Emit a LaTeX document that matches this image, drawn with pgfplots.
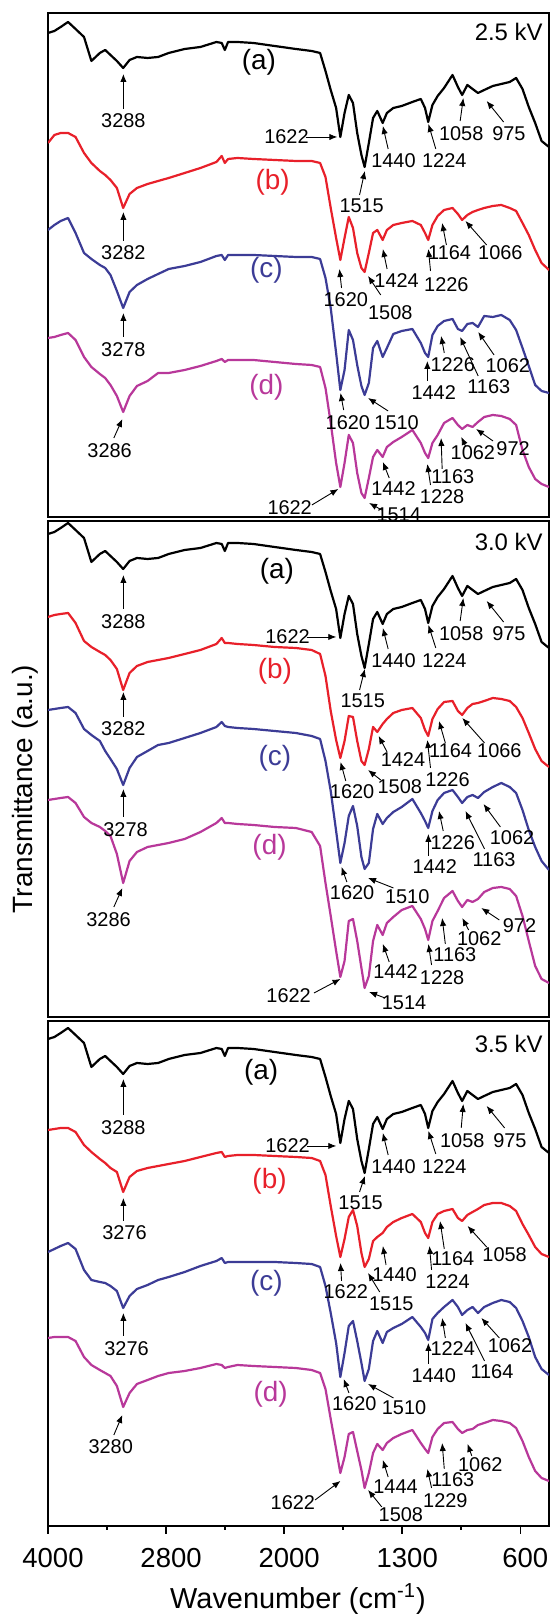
\documentclass[border=0pt]{standalone}
\usepackage{pgfplots}
\pgfplotsset{compat=1.18}
\usepackage{pgfplotstable}
\usepackage{fontspec}
\setmainfont{Liberation Sans}
\usetikzlibrary{arrows.meta}
\definecolor{cred}{HTML}{E8202A}
\definecolor{cblue}{HTML}{3C3C96}
\definecolor{cmag}{HTML}{B8389A}

% FTIR spectra, 2.5 kV panel: wavenumber, (a) (b) (c) (d) transmittance (a.u.)
\pgfplotstableread{
wn a b c d
4000 480 370 283 175
3935 482 378 288 176
3871 486 380 292 178
3796 491 380 295 180
3720 484 376 280 173
3634 476 360 260 156
3559 452 350 254 146
3473 460 342 248 139
3419 463 338 245 135
3365 458 333 238 128
3300 452 325 222 117
3236 445 305 205 101
3171 453 319 221 117
3096 456 325 228 127
2988 455 329 234 132
2881 456 332 239 140
2782 460 335 244 140
2674 464 340 247 143
2567 466 345 251 147
2459 471 351 257 152
2423 470 357 258 154
2402 463 350 253 151
2380 471 354 258 153
2316 471 355 258 153
2208 470 354 258 153
2065 467 353 257 151
1931 464 352 256 149
1837 462 352 256 148
1787 460 350 254 146
1755 442 336 235 125
1724 423 305 205 90
1692 405 275 160 50
1667 376 253 123 26
1642 400 275 143 50
1617 418 296 183 78
1592 410 285 173 70
1567 380 260 148 40
1542 358 245 127 20
1523 346 241 118 15
1498 370 260 130 35
1473 395 280 165 56
1448 402 283 172 63
1416 390 273 156 56
1391 400 283 165 66
1353 405 288 179 71
1303 407 290 182 76
1240 411 292 184 83
1190 414 288 170 70
1165 405 280 160 60
1146 391 273 156 55
1121 408 288 178 70
1090 417 297 187 78
1052 425 303 192 90
1002 438 305 194 95
970 426 299 184 88
945 418 293 182 84
914 428 298 189 88
883 424 301 190 86
851 420 303 186 91
814 423 305 197 96
763 427 307 196 98
713 429 308 198 97
663 431 305 193 94
625 435 302 183 88
587 424 290 165 63
550 406 278 147 46
512 390 263 128 34
474 372 250 122 29
430 366 243 120 26
}\tPone

% 3.0 kV panel
\pgfplotstableread{
wn a b c d
4000 487 404 311 221
3935 489 406 312 222
3871 493 407 313 223
3796 498 408 314 224
3720 491 398 308 218
3634 483 380 292 204
3559 459 374 286 198
3473 467 369 280 194
3419 470 366 270 190
3365 465 361 262 185
3300 459 352 252 167
3236 452 331 236 138
3171 460 348 253 160
3096 463 355 264 169
2988 462 359 270 174
2881 463 361 276 176
2782 467 363 278 178
2674 471 367 283 182
2567 473 371 288 189
2459 478 377 294 198
2423 477 383 299 203
2402 470 378 295 198
2380 478 378 294 198
2316 478 377 293 197
2208 477 376 292 196
2065 474 374 290 194
1931 471 373 288 193
1837 469 371 285 189
1787 467 367 282 175
1755 449 345 260 138
1724 430 310 230 105
1692 412 281 190 70
1667 383 263 158 44
1642 407 280 178 60
1617 425 305 205 100
1592 417 304 215 102
1567 387 280 195 80
1542 365 260 164 53
1523 353 256 152 33
1498 377 272 158 45
1473 402 294 192 80
1448 409 289 207 96
1416 397 297 197 86
1391 407 302 203 98
1353 412 308 209 104
1303 414 311 214 111
1240 418 313 222 115
1190 421 303 208 102
1165 412 291 200 92
1146 398 285 193 81
1121 415 302 210 100
1090 424 312 221 110
1052 432 319 228 123
1002 445 320 231 130
970 433 310 224 120
945 425 306 218 114
914 435 313 224 121
883 431 317 226 119
851 427 318 223 122
814 430 320 229 129
763 434 323 234 133
713 436 322 238 134
663 438 320 234 132
625 442 314 228 125
587 431 303 211 105
550 413 288 191 80
512 397 272 174 55
474 379 260 160 42
430 373 254 151 38
}\tPtwo

% 3.5 kV panel
\pgfplotstableread{
wn a b c d
4000 482 391 269 183
3935 484 392 272 184
3871 488 393 275 184
3796 493 393 278 184
3720 486 389 272 180
3634 478 376 251 164
3559 454 369 241 156
3473 462 362 239 151
3419 465 358 238 148
3365 460 353 235 145
3300 454 349 230 135
3236 447 329 213 114
3171 455 344 225 128
3096 458 350 232 137
2988 457 353 236 141
2881 458 355 241 145
2782 462 357 244 148
2674 466 360 249 150
2567 468 364 255 153
2459 473 368 260 157
2423 472 369 263 156
2402 465 364 258 153
2380 473 365 259 154
2316 473 366 259 156
2208 472 366 259 155
2065 469 365 259 154
1931 466 364 258 153
1837 464 363 257 151
1787 462 360 254 148
1755 444 346 235 132
1724 425 315 208 102
1692 407 285 178 72
1667 378 264 144 48
1642 402 282 168 64
1617 420 304 195 87
1592 412 311 200 89
1567 382 295 180 70
1542 360 268 158 51
1523 348 254 140 33
1498 372 262 152 48
1473 397 280 180 68
1448 404 284 190 77
1416 392 288 178 71
1391 402 294 189 78
1353 407 299 193 83
1303 409 303 197 87
1240 413 307 204 91
1190 416 299 194 78
1165 407 288 188 72
1146 393 283 181 68
1121 410 299 202 84
1090 419 307 208 92
1052 427 310 214 98
1002 440 312 221 99
970 428 303 214 92
945 420 300 206 88
914 430 306 211 91
883 426 309 214 92
851 422 312 208 96
814 425 316 214 98
763 429 318 218 101
713 431 318 221 100
663 433 315 219 98
625 437 310 213 93
587 426 297 200 80
550 408 286 184 64
512 392 274 164 50
474 374 267 152 43
430 368 264 146 40
}\tPthree

\pgfplotsset{
  ftir/.style={
    scale only axis, width=250.5bp,
    xmin=4000, xmax=430,
    x coord trafo/.code={\pgfmathparse{(##1>=2800)*((4000-##1)/1200)+and(##1<2800,##1>=2000)*(1+(2800-##1)/800)+(##1<2000)*(2+(2000-##1)/700)}},
    ytick=\empty,
    axis line style={line width=0.9bp},
    every axis plot/.append style={line width=1.1bp, line join=round},
  },
}

\tikzset{
  annlabel/.style={font=\fontsize{10}{11}\selectfont, inner sep=0pt, anchor=center},
  annarrow/.style={-{Latex[length=4bp,width=3.2bp]}, line width=0.45bp, black},
  serlabel/.style={font=\fontsize{14}{15}\selectfont, inner sep=0pt},
  kvlabel/.style={font=\fontsize{12}{13}\selectfont, inner sep=0pt, anchor=east},
}
\newcommand{\ann}[7]{\draw[annarrow] (#4,#5) -- (#6,#7); \node[annlabel] at (#2,#3) {#1};}

\begin{document}
\begin{tikzpicture}
\path[use as bounding box] (0,0) rectangle (276.5bp,807.5bp);

\begin{axis}[ftir, at={(24bp,549bp)}, anchor=south west, height=252bp, ymin=-4, ymax=500, xtick=\empty]
\addplot[black] table[x=wn,y=a]{\tPone};
\addplot[cred] table[x=wn,y=b]{\tPone};
\addplot[cblue] table[x=wn,y=c]{\tPone};
\addplot[cmag] table[x=wn,y=d]{\tPone};
\end{axis}

\begin{axis}[ftir, at={(24bp,299bp)}, anchor=south west, height=248bp, ymin=4, ymax=500, xtick=\empty]
\addplot[black] table[x=wn,y=a]{\tPtwo};
\addplot[cred] table[x=wn,y=b]{\tPtwo};
\addplot[cblue] table[x=wn,y=c]{\tPtwo};
\addplot[cmag] table[x=wn,y=d]{\tPtwo};
\end{axis}

\begin{axis}[ftir, at={(24bp,44.5bp)}, anchor=south west, height=252.5bp, ymin=-5, ymax=500,
  xtick={4000,2800,2000,1300,600},
  xticklabels={4000,2800,2000,1300,600},
  minor xtick={3400,2400,1650,950},
  xtick pos=bottom, tick align=outside,
  major tick length=4bp, minor tick length=2bp,
  tick style={line width=0.8bp, black},
  xticklabel style={font=\fontsize{13.8}{15}\selectfont, xshift=2.5bp, yshift=-3.5bp}]
\addplot[black] table[x=wn,y=a]{\tPthree};
\addplot[cred] table[x=wn,y=b]{\tPthree};
\addplot[cblue] table[x=wn,y=c]{\tPthree};
\addplot[cmag] table[x=wn,y=d]{\tPthree};
\end{axis}

% titles and kV labels (picture pixels)
\begin{scope}[shift={(0,807.5bp)}, x=0.5bp, y=-0.5bp]
\node[font=\fontsize{14.5}{16}\selectfont] at (298,1599) {Wavenumber (cm\textsuperscript{-1})};
\node[rotate=90, font=\fontsize{14}{15}\selectfont] at (25,789) {Transmittance (a.u.)};
\node[kvlabel] at (543,32) {2.5 kV};
\node[kvlabel] at (543,542) {3.0 kV};
\node[kvlabel] at (543,1044) {3.5 kV};
\end{scope}

% peak annotations
\begin{scope}[shift={(-0.25bp,807.5bp)}, x=0.5295bp, y=-0.5bp]
% ---------- panel 1 ----------
\node[serlabel] at (245,62) {(a)};
\ann{3288}{117}{121}{117}{109}{117}{74}
\ann{1622}{271}{137}{289}{137}{319}{137}
\ann{1515}{342}{206}{340}{195}{345}{171}
\ann{1440}{372}{161}{367}{149}{362}{126}
\ann{1224}{420}{161}{412}{149}{405}{124}
\ann{1058}{436}{134}{435}{121}{438}{98}
\ann{975}{481}{134}{476}{122}{460}{101}
\node[serlabel, text=cred] at (258,182) {(b)};
\ann{3282}{117}{253}{117}{241}{117}{212}
\ann{1620}{327}{300}{323}{288}{321}{269}
\ann{1508}{369}{313}{360}{295}{348}{276}
\ann{1424}{375}{281}{366}{269}{362}{249}
\ann{1226}{422}{285}{407}{271}{405}{249}
\ann{1164}{425}{253}{422}{245}{418}{223}
\ann{1066}{473}{253}{460}{245}{440}{221}
\node[serlabel, text=cblue] at (252,270) {(c)};
\ann{3278}{117}{350}{117}{337}{117}{313}
\ann{1620}{329}{423}{325}{410}{322}{393}
\ann{1510}{375}{423}{367}{411}{348}{398}
\ann{1442}{410}{393}{404}{381}{404}{361}
\ann{1226}{428}{365}{420}{353}{417}{336}
\ann{1163}{462}{387}{452}{376}{435}{337}
\ann{1062}{480}{366}{467}{355}{452}{332}
\node[serlabel, text=cmag] at (252,387) {(d)};
\ann{3286}{104}{451}{108}{438}{116}{419}
\ann{1622}{274}{508}{295}{505}{320}{489}
\ann{1514}{377}{515}{361}{510}{349}{503}
\ann{1442}{372}{489}{368}{478}{362}{462}
\ann{1228}{418}{497}{407}{485}{404}{464}
\ann{1163}{428}{477}{418}{469}{417}{438}
\ann{1062}{447}{453}{440}{446}{436}{437}
\ann{972}{485}{449}{466}{441}{450}{429}

% ---------- panel 2 ----------
\node[serlabel] at (262,571) {(a)};
\ann{3288}{117}{622}{117}{609}{117}{575}
\ann{1622}{272}{637}{290}{637}{318}{637}
\ann{1515}{343}{701}{340}{690}{345}{669}
\ann{1440}{372}{661}{367}{649}{362}{628}
\ann{1224}{420}{661}{412}{648}{405}{625}
\ann{1058}{436}{634}{435}{621}{438}{598}
\ann{975}{481}{634}{476}{622}{460}{601}
\node[serlabel, text=cred] at (260,671) {(b)};
\ann{3282}{117}{729}{117}{717}{117}{692}
\ann{1620}{333}{792}{327}{781}{322}{762}
\ann{1508}{378}{787}{360}{780}{348}{770}
\ann{1424}{381}{760}{366}{752}{358}{736}
\ann{1226}{423}{780}{407}{768}{404}{740}
\ann{1164}{426}{751}{421}{743}{415}{721}
\ann{1066}{472}{751}{458}{743}{437}{718}
\node[serlabel, text=cblue] at (260,758) {(c)};
\ann{3278}{119}{830}{117}{817}{117}{789}
\ann{1620}{333}{893}{328}{882}{323}{867}
\ann{1510}{385}{897}{372}{888}{348}{878}
\ann{1442}{411}{867}{405}{856}{405}{834}
\ann{1226}{428}{843}{419}{831}{415}{811}
\ann{1163}{467}{860}{458}{849}{440}{811}
\ann{1062}{484}{838}{473}{827}{457}{804}
\node[serlabel, text=cmag] at (255,847) {(d)};
\ann{3286}{103}{920}{108}{907}{116}{888}
\ann{1622}{273}{996}{297}{993}{322}{979}
\ann{1514}{382}{1003}{364}{998}{349}{992}
\ann{1442}{374}{972}{368}{962}{362}{944}
\ann{1228}{418}{978}{408}{965}{405}{944}
\ann{1163}{430}{955}{421}{944}{418}{918}
\ann{1062}{453}{939}{443}{930}{437}{918}
\ann{972}{491}{926}{472}{920}{455}{908}

% ---------- panel 3 ----------
\node[serlabel] at (247,1072) {(a)};
\ann{3288}{117}{1128}{117}{1115}{117}{1079}
\ann{1622}{272}{1146}{290}{1146}{318}{1146}
\ann{1515}{341}{1203}{340}{1192}{345}{1176}
\ann{1440}{372}{1167}{367}{1155}{362}{1133}
\ann{1224}{420}{1167}{412}{1154}{405}{1131}
\ann{1058}{437}{1141}{436}{1128}{438}{1104}
\ann{975}{482}{1141}{477}{1128}{460}{1106}
\node[serlabel, text=cred] at (255,1181) {(b)};
\ann{3276}{118}{1233}{117}{1221}{117}{1198}
\ann{1622}{327}{1292}{323}{1281}{322}{1263}
\ann{1515}{370}{1304}{359}{1292}{348}{1273}
\ann{1440}{373}{1275}{365}{1265}{362}{1246}
\ann{1224}{423}{1282}{408}{1270}{406}{1246}
\ann{1164}{428}{1259}{420}{1249}{416}{1221}
\ann{1058}{477}{1255}{460}{1247}{442}{1226}
\node[serlabel, text=cblue] at (252,1283) {(c)};
\ann{3276}{120}{1349}{117}{1336}{117}{1313}
\ann{1620}{335}{1404}{330}{1393}{325}{1379}
\ann{1510}{382}{1408}{372}{1398}{348}{1384}
\ann{1440}{410}{1376}{405}{1364}{405}{1343}
\ann{1224}{428}{1349}{421}{1338}{418}{1318}
\ann{1164}{465}{1372}{458}{1361}{440}{1323}
\ann{1062}{482}{1346}{472}{1338}{455}{1318}
\node[serlabel, text=cmag] at (256,1394) {(d)};
\ann{3280}{105}{1447}{108}{1435}{116}{1415}
\ann{1622}{277}{1503}{298}{1500}{322}{1481}
\ann{1508}{379}{1515}{361}{1507}{348}{1490}
\ann{1444}{374}{1487}{367}{1477}{362}{1460}
\ann{1229}{421}{1501}{408}{1488}{404}{1469}
\ann{1163}{428}{1480}{420}{1469}{418}{1443}
\ann{1062}{454}{1465}{446}{1456}{442}{1444}
\end{scope}
\end{tikzpicture}
\end{document}
